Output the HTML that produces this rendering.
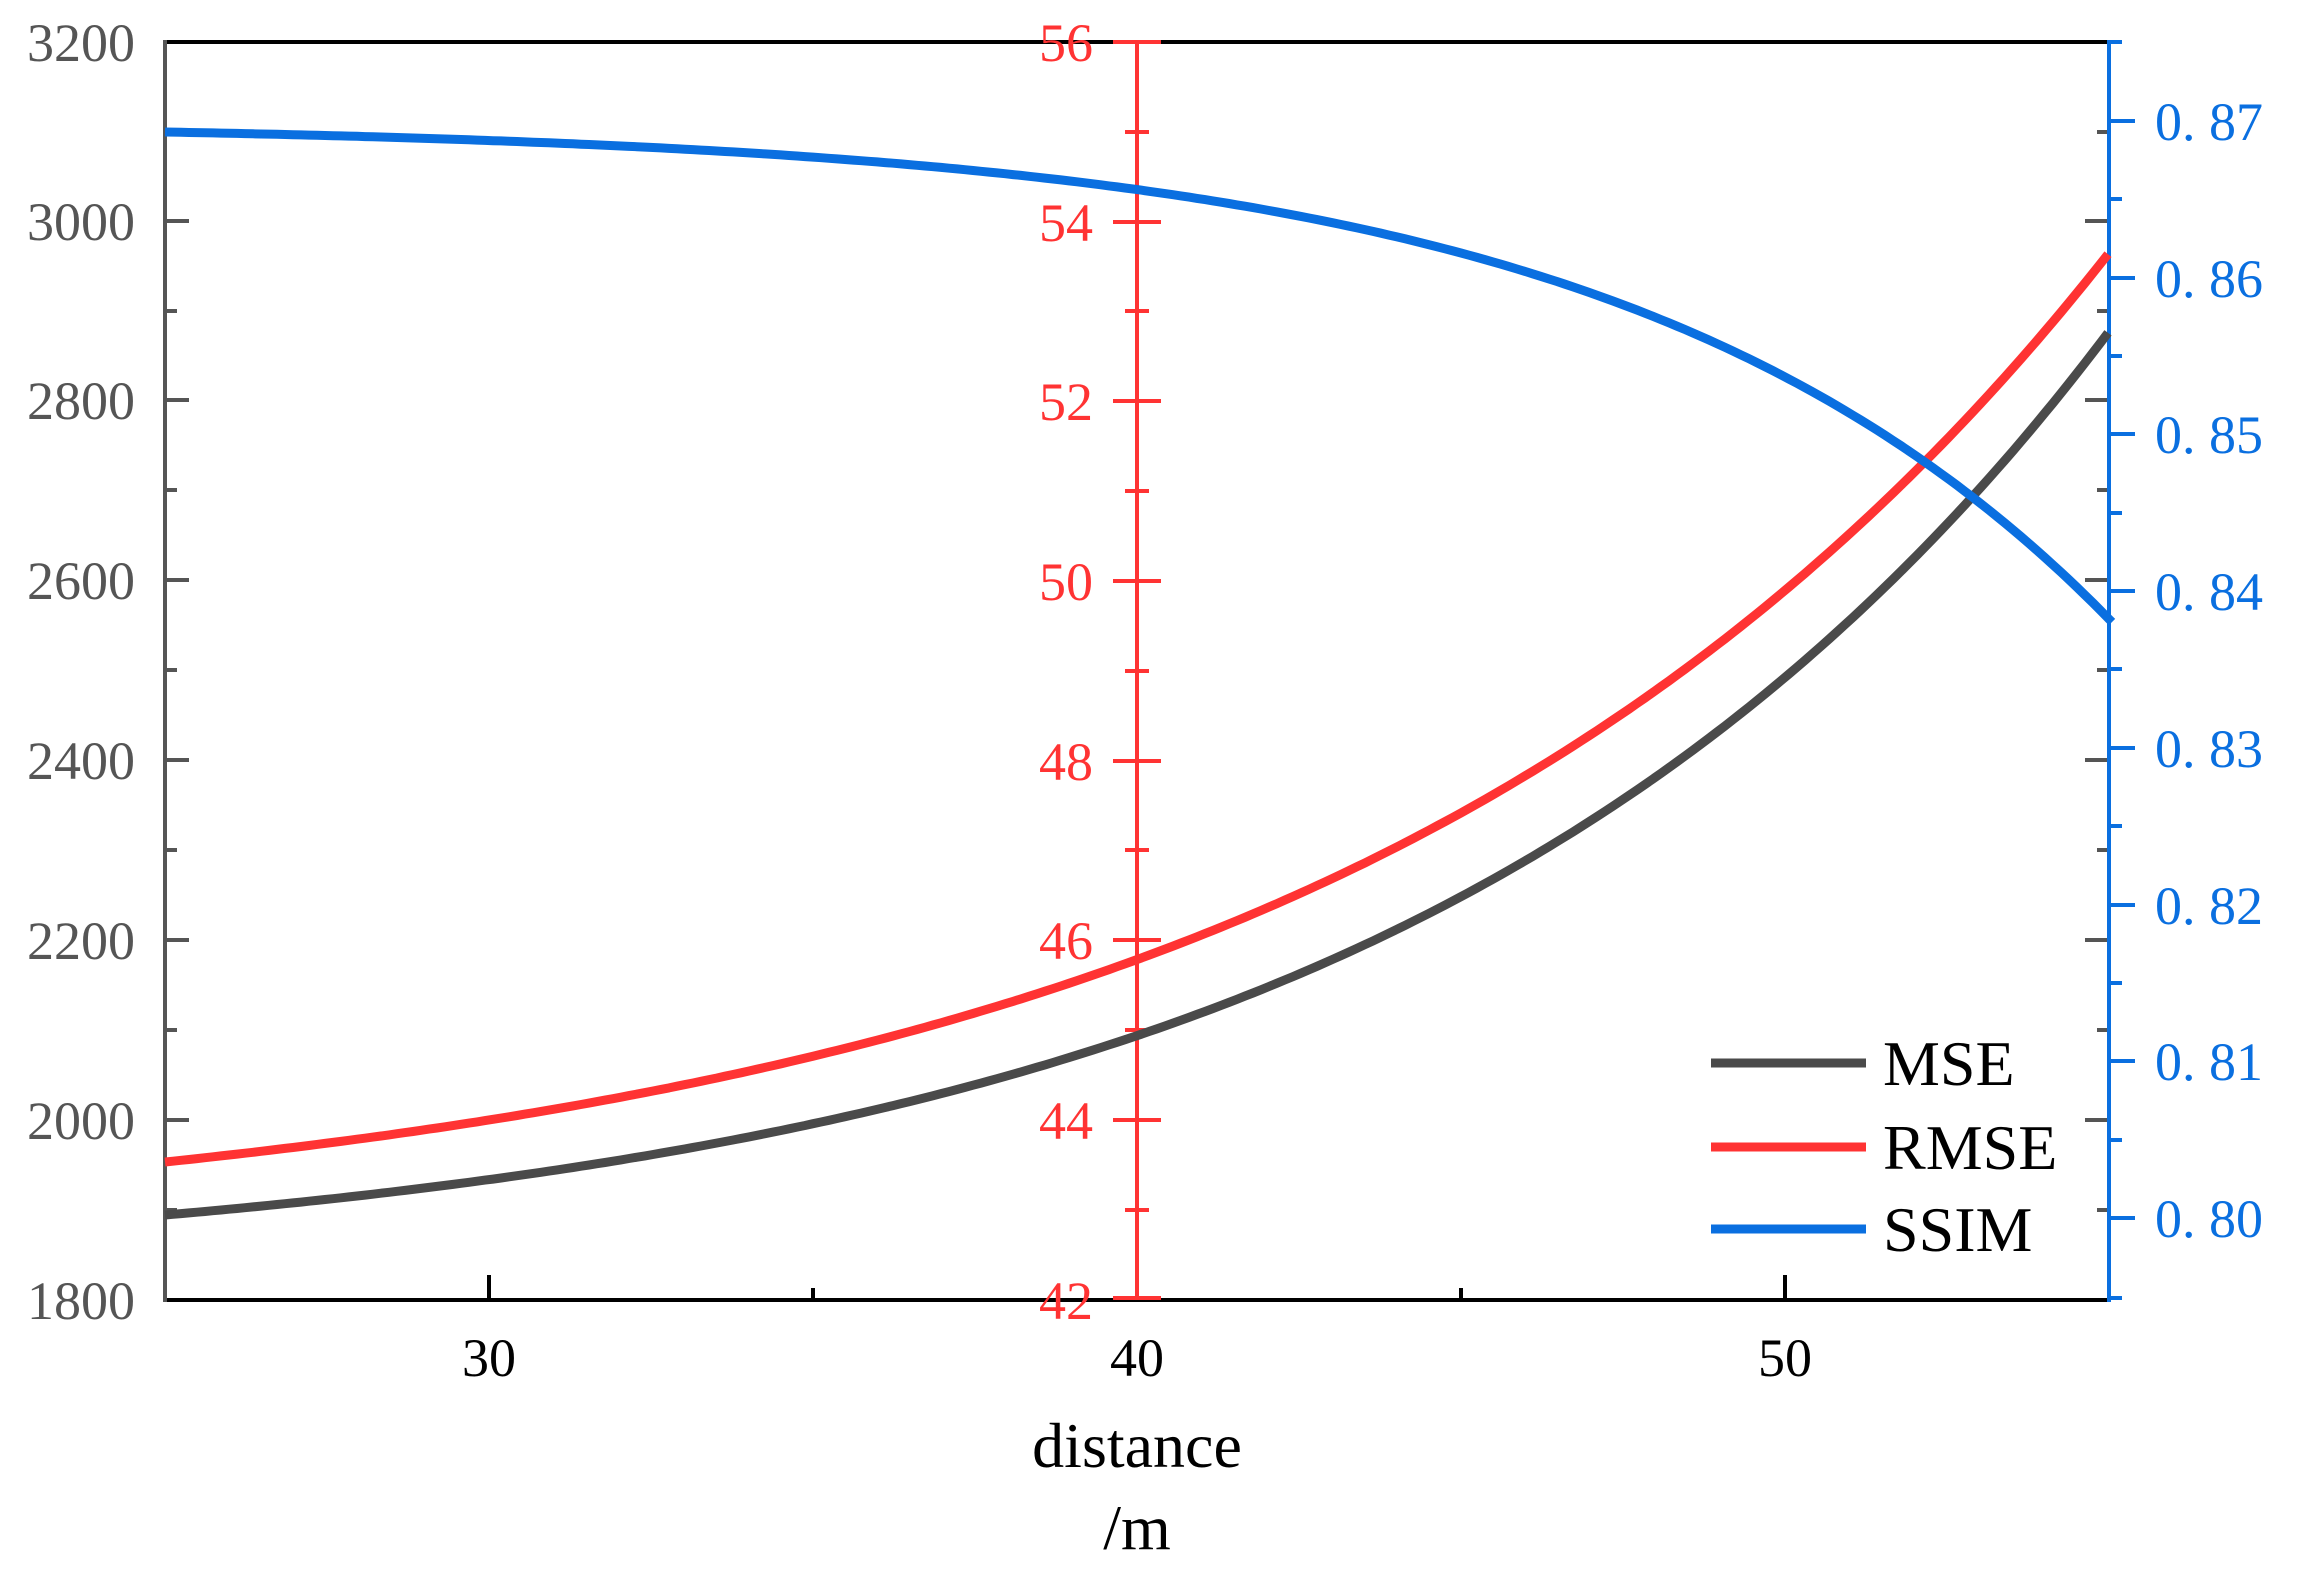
<!DOCTYPE html>
<html><head><meta charset="utf-8"><style>html,body{margin:0;padding:0;background:#fff}svg{display:block}</style></head>
<body>
<svg width="2304" height="1580" viewBox="0 0 2304 1580" xmlns="http://www.w3.org/2000/svg" font-family="Liberation Serif, serif">
<rect width="2304" height="1580" fill="#fff"/>
<line x1="165" y1="42" x2="2109" y2="42" stroke="#000" stroke-width="4"/>
<line x1="165" y1="1300" x2="2109" y2="1300" stroke="#000" stroke-width="4"/>
<line x1="165" y1="40" x2="165" y2="1302" stroke="#555" stroke-width="4"/>
<g stroke="#555" stroke-width="4">
<line x1="165" y1="221" x2="189" y2="221"/><line x1="165" y1="400" x2="189" y2="400"/><line x1="165" y1="580" x2="189" y2="580"/><line x1="165" y1="760" x2="189" y2="760"/><line x1="165" y1="940" x2="189" y2="940"/><line x1="165" y1="1120" x2="189" y2="1120"/>
<line x1="165" y1="132" x2="177" y2="132"/><line x1="165" y1="311" x2="177" y2="311"/><line x1="165" y1="490" x2="177" y2="490"/><line x1="165" y1="670" x2="177" y2="670"/><line x1="165" y1="850" x2="177" y2="850"/><line x1="165" y1="1030" x2="177" y2="1030"/><line x1="165" y1="1210" x2="177" y2="1210"/>
<line x1="2085" y1="221" x2="2109" y2="221"/><line x1="2085" y1="400" x2="2109" y2="400"/><line x1="2085" y1="580" x2="2109" y2="580"/><line x1="2085" y1="760" x2="2109" y2="760"/><line x1="2085" y1="940" x2="2109" y2="940"/><line x1="2085" y1="1120" x2="2109" y2="1120"/>
<line x1="2097" y1="132" x2="2109" y2="132"/><line x1="2097" y1="311" x2="2109" y2="311"/><line x1="2097" y1="490" x2="2109" y2="490"/><line x1="2097" y1="670" x2="2109" y2="670"/><line x1="2097" y1="850" x2="2109" y2="850"/><line x1="2097" y1="1030" x2="2109" y2="1030"/><line x1="2097" y1="1210" x2="2109" y2="1210"/>
</g>
<g fill="#555" font-size="54" text-anchor="end">
<text x="135" y="61">3200</text><text x="135" y="240">3000</text><text x="135" y="419">2800</text><text x="135" y="599">2600</text><text x="135" y="779">2400</text><text x="135" y="959">2200</text><text x="135" y="1139">2000</text><text x="135" y="1319">1800</text>
</g>
<g stroke="#000" stroke-width="4">
<line x1="489" y1="1300" x2="489" y2="1275"/><line x1="1137" y1="1300" x2="1137" y2="1275"/><line x1="1785" y1="1300" x2="1785" y2="1275"/>
<line x1="813" y1="1300" x2="813" y2="1288"/><line x1="1461" y1="1300" x2="1461" y2="1288"/>
</g>
<g fill="#000" font-size="54" text-anchor="middle">
<text x="489" y="1376">30</text><text x="1137" y="1376">40</text><text x="1785" y="1376">50</text>
<text x="1137" y="1467" font-size="64">distance</text>
<text x="1137" y="1549" font-size="64">/m</text>
</g>
<g stroke="#ff3333" stroke-width="4">
<line x1="1137" y1="42" x2="1137" y2="1300"/>
<line x1="1113" y1="42" x2="1161" y2="42"/><line x1="1113" y1="222" x2="1161" y2="222"/><line x1="1113" y1="401" x2="1161" y2="401"/><line x1="1113" y1="581" x2="1161" y2="581"/><line x1="1113" y1="761" x2="1161" y2="761"/><line x1="1113" y1="940" x2="1161" y2="940"/><line x1="1113" y1="1120" x2="1161" y2="1120"/><line x1="1113" y1="1298" x2="1161" y2="1298"/>
<line x1="1125" y1="132" x2="1149" y2="132"/><line x1="1125" y1="311" x2="1149" y2="311"/><line x1="1125" y1="491" x2="1149" y2="491"/><line x1="1125" y1="671" x2="1149" y2="671"/><line x1="1125" y1="850" x2="1149" y2="850"/><line x1="1125" y1="1030" x2="1149" y2="1030"/><line x1="1125" y1="1210" x2="1149" y2="1210"/>
</g>
<g fill="#ff3333" font-size="54" text-anchor="end">
<text x="1093" y="61">56</text><text x="1093" y="241">54</text><text x="1093" y="420">52</text><text x="1093" y="600">50</text><text x="1093" y="780">48</text><text x="1093" y="959">46</text><text x="1093" y="1139">44</text><text x="1093" y="1319">42</text>
</g>
<g stroke="#0a6fe0" stroke-width="4">
<line x1="2109" y1="40" x2="2109" y2="1302"/>
<line x1="2109" y1="42" x2="2122" y2="42"/>
<line x1="2109" y1="121" x2="2135" y2="121"/><line x1="2109" y1="278" x2="2135" y2="278"/><line x1="2109" y1="434" x2="2135" y2="434"/><line x1="2109" y1="591" x2="2135" y2="591"/><line x1="2109" y1="748" x2="2135" y2="748"/><line x1="2109" y1="905" x2="2135" y2="905"/><line x1="2109" y1="1061" x2="2135" y2="1061"/><line x1="2109" y1="1218" x2="2135" y2="1218"/>
<line x1="2109" y1="199" x2="2122" y2="199"/><line x1="2109" y1="356" x2="2122" y2="356"/><line x1="2109" y1="513" x2="2122" y2="513"/><line x1="2109" y1="669" x2="2122" y2="669"/><line x1="2109" y1="826" x2="2122" y2="826"/><line x1="2109" y1="983" x2="2122" y2="983"/><line x1="2109" y1="1140" x2="2122" y2="1140"/><line x1="2109" y1="1298" x2="2122" y2="1298"/>
</g>
<g fill="#0a6fe0" font-size="54">
<text x="2155" y="140">0. 87</text><text x="2155" y="297">0. 86</text><text x="2155" y="453">0. 85</text><text x="2155" y="610">0. 84</text><text x="2155" y="767">0. 83</text><text x="2155" y="924">0. 82</text><text x="2155" y="1080">0. 81</text><text x="2155" y="1237">0. 80</text>
</g>
<g fill="none" stroke-width="9" stroke-linejoin="round">
<path id="mse" stroke="#4a4a4a" d="M165,1215 C273,1203 381,1192 489,1178 C597,1164 705,1150 813,1128 C921,1106 1029,1072 1137,1036 C1245,1000 1353,951 1461,889 C1569,827 1676,760 1784,678 C1838,634 1892,573 1946,514 C2000,455 2054,398 2108,335"/>
<path id="rmse" stroke="#ff3333" d="M165,1162 C273,1149 381,1138 489,1122 C597,1105 705,1078 813,1048 C921,1020 1029,996 1137,960 C1245,924 1353,876 1461,816 C1569,756 1676,682 1784,595 C1838,549 1892,497 1946,440 C2000,380 2054,320 2108,256"/>
<path id="ssim" stroke="#0a6fe0" d="M165,132 C273,135 381,137 489,141 C597,145 705,150 813,157 C921,165 1029,176 1137,190 C1245,206 1353,225 1461,253 C1569,285 1676,325 1784,381 C1838,412 1892,445 1946,484 C2000,526 2056,575 2112,625"/>
</g>
<g stroke-width="9">
<line x1="1711" y1="1063" x2="1866" y2="1063" stroke="#4a4a4a"/>
<line x1="1711" y1="1147" x2="1866" y2="1147" stroke="#ff3333"/>
<line x1="1711" y1="1229" x2="1866" y2="1229" stroke="#0a6fe0"/>
</g>
<g fill="#000" font-size="64">
<text x="1883" y="1085">MSE</text><text x="1883" y="1169">RMSE</text><text x="1883" y="1251">SSIM</text>
</g>
</svg>
<script>
function gen(id,x1,f){
  var d="";
  for(var x=165;x<=x1;x+=8){d+=(d?" L":"M")+x+","+f(x).toFixed(1);}
  d+=" L"+x1+","+f(x1).toFixed(1);
  document.getElementById(id).setAttribute("d",d);
}
gen("mse",2108,function(x){return 1276.3-61.3*Math.exp(0.001407*(x-165));});
gen("rmse",2108,function(x){return 1243.3-81.3*Math.exp(0.001286*(x-165));});
gen("ssim",2112,function(x){return 123.08+8.92*Math.exp(0.002067*(x-165));});
</script>
</body></html>
